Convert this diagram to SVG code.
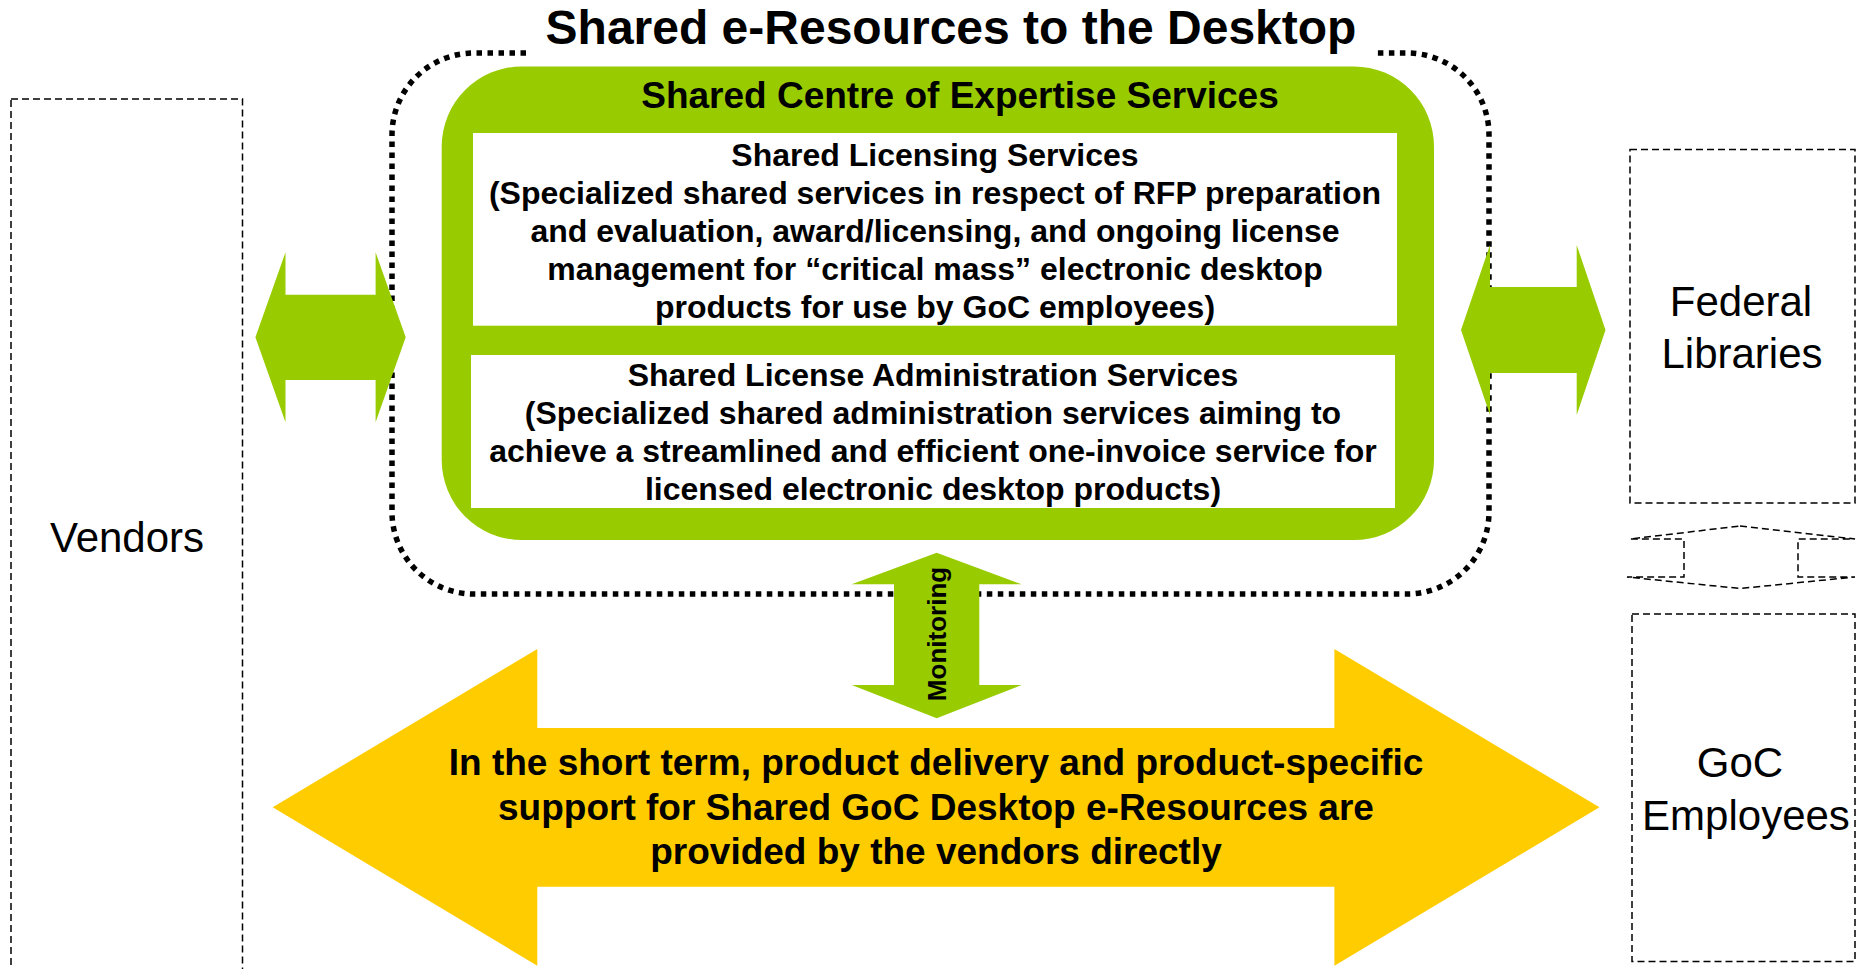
<svg xmlns="http://www.w3.org/2000/svg" width="1857" height="969" viewBox="0 0 1857 969">
<style>
.dash{fill:none;stroke:#000;stroke-width:1.5;stroke-dasharray:7 4}
.dots{fill:none;stroke:#000;stroke-width:5.5;stroke-dasharray:5.5 5.5}
.green{fill:#99CC00}
.yellow{fill:#FFCC00}
.t{font-family:"Liberation Sans",Arial,sans-serif;fill:#000;text-anchor:middle}
.b{font-weight:bold}
.lbl{font-size:42px}
.box{font-size:32px;font-weight:bold}
</style>
<rect width="1857" height="969" fill="#fff"/>

<g id="frame">
<path class="dots" d="M526,53 H474 A82,82 0 0 0 392,135 V512 A82,82 0 0 0 474,594 H1407 A82,82 0 0 0 1489,512 V135 A82,82 0 0 0 1407,53 H1376"/>
<text class="t b" x="951" y="44" font-size="48">Shared e-Resources to the Desktop</text>
</g>

<g id="vendors">
<rect class="dash" x="11" y="99" width="231.5" height="900"/>
<text class="t lbl" x="127" y="552">Vendors</text>
</g>

<g id="federal-libraries">
<rect class="dash" x="1630" y="149.5" width="225" height="353.5"/>
<text class="t lbl" x="1741" y="316">Federal</text>
<text class="t lbl" x="1742" y="367.5">Libraries</text>
</g>

<g id="goc-employees">
<rect class="dash" x="1632" y="614" width="223" height="347.5"/>
<text class="t lbl" x="1740" y="777">GoC</text>
<text class="t lbl" x="1746" y="830">Employees</text>
</g>

<g id="coe">
<rect class="green" x="441.7" y="66.5" width="992.3" height="473.5" rx="80" ry="80"/>
<text class="t b" x="960" y="108" font-size="37">Shared Centre of Expertise Services</text>
</g>

<g id="licensing">
<rect x="473" y="133" width="924" height="192.7" fill="#fff"/>
<text class="t box" x="935" y="165.5">Shared Licensing Services</text>
<text class="t box" x="935" y="204">(Specialized shared services in respect of RFP preparation</text>
<text class="t box" x="935" y="242">and evaluation, award/licensing, and ongoing license</text>
<text class="t box" x="935" y="280">management for “critical mass” electronic desktop</text>
<text class="t box" x="935" y="318">products for use by GoC employees)</text>
</g>

<g id="administration">
<rect x="471" y="355" width="924" height="153" fill="#fff"/>
<text class="t box" x="933" y="385.5">Shared License Administration Services</text>
<text class="t box" x="933" y="423.5">(Specialized shared administration services aiming to</text>
<text class="t box" x="933" y="461.5">achieve a streamlined and efficient one-invoice service for</text>
<text class="t box" x="933" y="499.5">licensed electronic desktop products)</text>
</g>

<g id="connectors">
<polygon class="green" points="255.4,337.3 285.5,252.3 285.5,294.7 375.6,294.7 375.6,252.3 405.7,337.3 375.6,422.3 375.6,380 285.5,380 285.5,422.3"/>
<polygon class="green" points="1461,330 1490,245 1490,287 1576.7,287 1576.7,245 1605.5,330 1576.7,415 1576.7,373 1490,373 1490,415"/>
<polygon class="yellow" points="272.7,807.3 537.3,649 537.3,728 1334.4,728 1334.4,649 1599.5,807.3 1334.4,965.7 1334.4,886.7 537.3,886.7 537.3,965.7"/>
<polygon class="green" points="936.7,552.7 1021.7,584.3 979.3,584.3 979.3,685 1021.7,685 936.7,718.3 851.7,685 894,685 894,584.3 851.7,584.3"/>
<path class="dash" d="M1740,526 L1855,539 H1798 V577 H1855 L1740,588.5 L1627,577 H1684 V539 H1630 Z"/>
<text class="t b" font-size="26" transform="translate(946,634) rotate(-90)">Monitoring</text>
<text class="t b" x="936" y="775" font-size="37">In the short term, product delivery and product-specific</text>
<text class="t b" x="936" y="819.5" font-size="37">support for Shared GoC Desktop e-Resources are</text>
<text class="t b" x="936" y="864" font-size="37">provided by the vendors directly</text>
</g>
</svg>
